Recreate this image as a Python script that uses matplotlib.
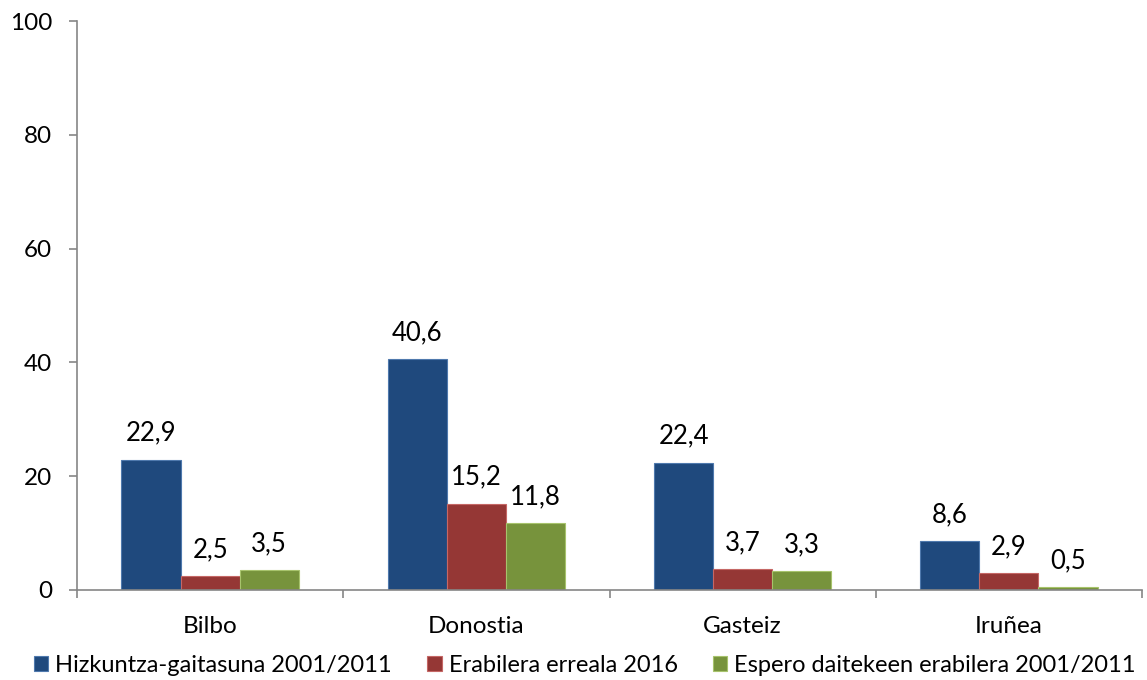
import matplotlib
matplotlib.use('Agg')
import matplotlib.pyplot as plt
import numpy as np

# DATA
cities = ['Bilbo', 'Donostia', 'Gasteiz', 'Iruñea']
gaitasuna = [22.9, 40.6, 22.4, 8.6]
erabilera = [2.5, 15.2, 3.7, 2.9]
espero = [3.5, 11.8, 3.3, 0.5]
series_names = ['Hizkuntza-gaitasuna 2001/2011', 'Erabilera erreala 2016', 'Espero daitekeen erabilera 2001/2011']
yticks = [0, 20, 40, 60, 80, 100]

colours = ['#1F497D', '#953735', '#77933C']
edges = ['#4F79AD', '#C56765', '#A7C36C']

plt.rcParams['font.family'] = ['Lato', 'DejaVu Sans']

fig = plt.figure(figsize=(11.47, 6.8), dpi=100)
ax = fig.add_axes([77/1147, 1-590/680, (1142-77)/1147, (590-21)/680])

x = np.arange(len(cities))
w = 0.222
allseries = [gaitasuna, erabilera, espero]
for i in range(3):
    pos = x + (i-1)*w
    ax.bar(pos, allseries[i], width=w, color=colours[i], edgecolor=edges[i], linewidth=0.8, label=series_names[i])
    for p, v in zip(pos, allseries[i]):
        ax.annotate(('%.1f' % v).replace('.', ','), (p, v), xytext=(0, 10), textcoords='offset points',
                    ha='center', va='bottom', fontsize=18.5)

ax.set_xlim(-0.5, len(cities)-0.5)
ax.set_ylim(0, 100)
ax.set_yticks(yticks)
ax.set_yticklabels([str(t) for t in yticks], fontsize=17.5)
ax.set_xticks(x)
ax.set_xticklabels(cities, fontsize=17.5)
ax.tick_params(axis='x', length=0, pad=19)
ax.tick_params(axis='y', length=6, width=1.2, color='#868686', pad=12)
ax.set_xticks(np.arange(-0.5, len(cities), 1.0), minor=True)
ax.tick_params(axis='x', which='minor', length=6, width=1.2, color='#868686')
for s in ['top', 'right']:
    ax.spines[s].set_visible(False)
for s in ['left', 'bottom']:
    ax.spines[s].set_color('#868686')
    ax.spines[s].set_linewidth(1.2)

fig.legend(loc='lower center', bbox_to_anchor=(0.51, -0.025), ncol=3, frameon=False, fontsize=17,
           handlelength=0.6, handleheight=0.6, handletextpad=0.3, columnspacing=1.5)

fig.savefig('out.png', dpi=100)
